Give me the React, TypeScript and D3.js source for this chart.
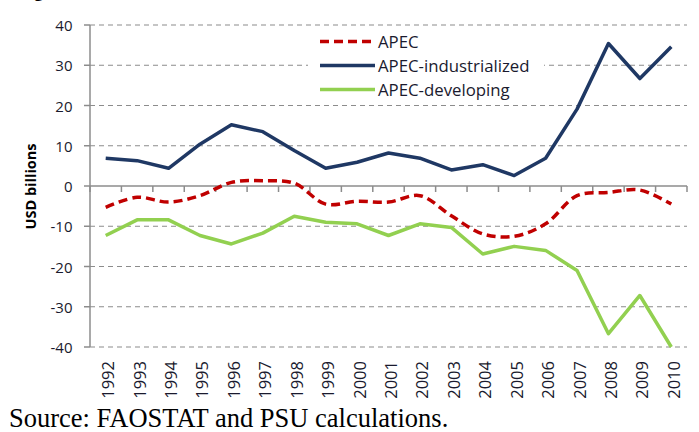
import React from "react";
import * as d3 from "d3";

const years = ["1992","1993","1994","1995","1996","1997","1998","1999","2000","2001","2002","2003","2004","2005","2006","2007","2008","2009","2010"];
const apec = [-5.3,-2.8,-4.0,-2.4,0.9,1.3,0.7,-4.5,-3.8,-4.0,-2.4,-7.4,-11.9,-12.5,-9.4,-2.4,-1.6,-1.0,-4.5];
const industrialized = [6.9,6.3,4.4,10.4,15.2,13.5,8.8,4.4,5.9,8.2,6.9,4.0,5.3,2.6,6.9,19.1,35.4,26.7,34.6];
const developing = [-12.3,-8.4,-8.4,-12.3,-14.4,-11.7,-7.5,-9.0,-9.4,-12.3,-9.4,-10.3,-16.9,-15.0,-16.0,-21.0,-36.7,-27.2,-40.0];
const yTicks = [40,30,20,10,0,-10,-20,-30,-40];
const seriesNames = ["APEC","APEC-industrialized","APEC-developing"];

const W = 699, H = 432;
const left = 90, right = 687, top = 25, bottom = 347;

export default function App() {
  const x = d3.scaleBand<string>().domain(years).range([left, right]).padding(0);
  const y = d3.scaleLinear().domain([-40, 40]).range([bottom, top]);
  const cx = (i: number) => (x(years[i]) as number) + x.bandwidth() / 2;

  const straight = d3.line<number>().x((_, i) => cx(i)).y(v => y(v));
  const smooth = d3.line<number>().x((_, i) => cx(i)).y(v => y(v)).curve(d3.curveCatmullRom.alpha(0.5));

  const axisColor = "#8c8c8c";
  const labelColor = "#1a1a2e";
  const boundaries = years.map(yr => x(yr) as number).concat([right]);

  const legend = [
    { name: seriesNames[0], color: "#C00000", dash: "9,5" },
    { name: seriesNames[1], color: "#1F3864", dash: undefined },
    { name: seriesNames[2], color: "#92D050", dash: undefined },
  ];
  const legendY = [41.5, 65.5, 89.5];

  return (
    <svg width={W} height={H} style={{ position: "absolute", left: 0, top: 0, background: "#fff" }}>
      <rect x={0} y={0} width={W} height={H} fill="#fff" />
      <text x={18} y={-3} fontFamily="Liberation Serif, serif" fontWeight="bold" fontSize={18} fill="#000">Figure</text>
      {/* gridlines */}
      {yTicks.filter(t => t !== 0).map(t => (
        <line key={t} x1={left} x2={right} y1={y(t)} y2={y(t)} stroke="#8c8c8c" strokeWidth={1.2} strokeDasharray="5,4" />
      ))}
      {/* legend box */}
      <rect x={308} y={30} width={236} height={72} fill="#fff" />
      {/* axes */}
      <line x1={left} x2={left} y1={top} y2={bottom} stroke={axisColor} strokeWidth={1.5} />
      {yTicks.map(t => (
        <line key={"yt" + t} x1={left - 6} x2={left} y1={y(t)} y2={y(t)} stroke={axisColor} strokeWidth={1.5} />
      ))}
      <line x1={left} x2={right} y1={y(0)} y2={y(0)} stroke={axisColor} strokeWidth={1.5} />
      {boundaries.map((b, i) => (
        <line key={"xt" + i} x1={b} x2={b} y1={y(0)} y2={y(0) + 6} stroke={axisColor} strokeWidth={1.5} />
      ))}
      {yTicks.map(t => (
        <text key={"yl" + t} x={72.5} y={y(t) + 6} textAnchor="end" fontFamily="Open Sans, sans-serif" fontSize={15} fill={labelColor}>{t}</text>
      ))}
      {years.map((yr, i) => (
        <text key={yr} transform={`translate(${cx(i) + 8.5},${361}) rotate(-90)`} textAnchor="end" fontFamily="Open Sans, sans-serif" fontSize={16.5} fill={labelColor}>{yr}</text>
      ))}
      <text transform={`translate(35.5,186.5) rotate(-90)`} textAnchor="middle" fontFamily="Open Sans, sans-serif" fontWeight="bold" fontSize={14.5} fill="#000">USD billions</text>
      {/* series */}
      <path d={straight(developing) || ""} fill="none" stroke="#92D050" strokeWidth={3.5} strokeLinejoin="round" />
      <path d={straight(industrialized) || ""} fill="none" stroke="#1F3864" strokeWidth={3.5} strokeLinejoin="round" />
      <path d={smooth(apec) || ""} fill="none" stroke="#C00000" strokeWidth={3.5} strokeDasharray="9,5" />
      {/* legend */}
      {legend.map((l, i) => (
        <g key={l.name}>
          <line x1={320} x2={375} y1={legendY[i]} y2={legendY[i]} stroke={l.color} strokeWidth={3.5} strokeDasharray={l.dash} />
          <text x={378} y={legendY[i] + 6} fontFamily="Open Sans, sans-serif" fontSize={16.8} fill={labelColor}>{l.name}</text>
        </g>
      ))}
      <text x={9} y={427} fontFamily="Liberation Serif, serif" fontSize={26.5} fill="#000">Source: FAOSTAT and PSU calculations.</text>
    </svg>
  );
}
